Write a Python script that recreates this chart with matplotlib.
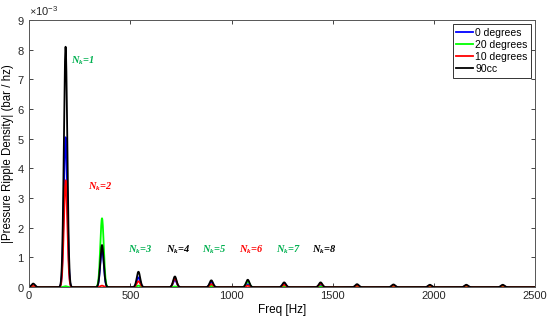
import numpy as np
import matplotlib
matplotlib.use("Agg")
import matplotlib.pyplot as plt
from matplotlib.ticker import ScalarFormatter

plt.rcParams['font.family'] = ['Liberation Sans', 'DejaVu Sans']
plt.rcParams['mathtext.fontset'] = 'custom'
plt.rcParams['mathtext.rm'] = 'Liberation Serif:bold:italic'
plt.rcParams['mathtext.it'] = 'Liberation Serif:bold:italic'
plt.rcParams['mathtext.bf'] = 'Liberation Serif:bold:italic'

# ---- data ----
peak_freqs = [20, 180, 360, 540, 720, 900, 1080, 1260, 1440, 1620, 1800, 1980, 2160, 2340]  # Hz
amp_0deg  = [0.05, 5.05, 1.30, 0.33, 0.25, 0.17, 0.10, 0.12, 0.08, 0.04, 0.04, 0.04, 0.04, 0.04]  # x1e-3
amp_20deg = [0.00, 0.03, 2.32, 0.05, 0.02, 0.04, 0.20, 0.03, 0.02, 0.02, 0.02, 0.02, 0.02, 0.02]
amp_10deg = [0.05, 3.60, 0.05, 0.20, 0.30, 0.10, 0.05, 0.08, 0.12, 0.05, 0.05, 0.05, 0.05, 0.05]
amp_90cc  = [0.12, 8.10, 1.42, 0.52, 0.36, 0.23, 0.25, 0.16, 0.16, 0.10, 0.09, 0.08, 0.08, 0.08]

series_names = ['0 degrees', '20 degrees', '10 degrees', '90cc']
series_amps = [amp_0deg, amp_20deg, amp_10deg, amp_90cc]
series_colors = ['#0000ff', '#00ff00', '#ff0000', '#000000']

nk_labels = ['1', '2', '3', '4', '5', '6', '7', '8']
nk_x = [207, 291, 489, 676, 855, 1037, 1220, 1398]       # Hz
nk_y = [7.64, 3.37, 1.25, 1.25, 1.25, 1.25, 1.25, 1.25]   # x1e-3
nk_colors = ['#00b050', '#ff0000', '#00b050', '#000000', '#00b050', '#ff0000', '#00b050', '#000000']

x_ticks = [0, 500, 1000, 1500, 2000, 2500]
y_ticks = [0, 1, 2, 3, 4, 5, 6, 7, 8, 9]  # x1e-3

# ---- figure ----
fig = plt.figure(figsize=(5.5, 3.23), dpi=100)
ax = fig.add_axes([0.053, 0.111, 0.920, 0.827])

freq = np.arange(0, 2501, 1.0)
sigma = 8.5
for name, amps, col in zip(series_names, series_amps, series_colors):
    spec = np.zeros_like(freq)
    for f0, a in zip(peak_freqs, amps):
        spec += a * 1e-3 * np.exp(-0.5 * ((freq - f0) / sigma) ** 2)
    ax.plot(freq, spec, color=col, lw=1.3, label=name)

for lab, xx, yy, c in zip(nk_labels, nk_x, nk_y, nk_colors):
    ax.text(xx, yy * 1e-3, r'$N_k$=' + lab, color=c, fontsize=7.5,
            family='Liberation Serif', fontweight='bold', fontstyle='italic',
            ha='left', va='center')

ax.set_xlim(0, 2500)
ax.set_ylim(0, 9e-3)
ax.set_xticks(x_ticks)
ax.set_yticks([v * 1e-3 for v in y_ticks])
fmt = ScalarFormatter(useMathText=True)
fmt.set_powerlimits((-2, 2))
ax.yaxis.set_major_formatter(fmt)
ax.yaxis.get_offset_text().set_fontsize(8)
ax.yaxis.get_offset_text().set_color('#555555')

ax.tick_params(direction='in', length=3, width=0.6, top=True, right=True,
               labelsize=8, colors='#262626', pad=3)
for s in ax.spines.values():
    s.set_color('#555555')
    s.set_linewidth(0.7)

ax.set_xlabel('Freq [Hz]', fontsize=8.5, labelpad=2)
ax.set_ylabel('|Pressure Ripple Density| (bar / hz)', fontsize=8.3, labelpad=2)

leg = ax.legend(loc='upper right', bbox_to_anchor=(0.992, 0.985), fontsize=7.5,
                handlelength=1.6, handletextpad=0.2, borderpad=0.35,
                labelspacing=0.2, borderaxespad=0, fancybox=False, framealpha=1)
leg.get_frame().set_edgecolor('#333333')
leg.get_frame().set_linewidth(0.7)

fig.savefig('out.png', dpi=100)
